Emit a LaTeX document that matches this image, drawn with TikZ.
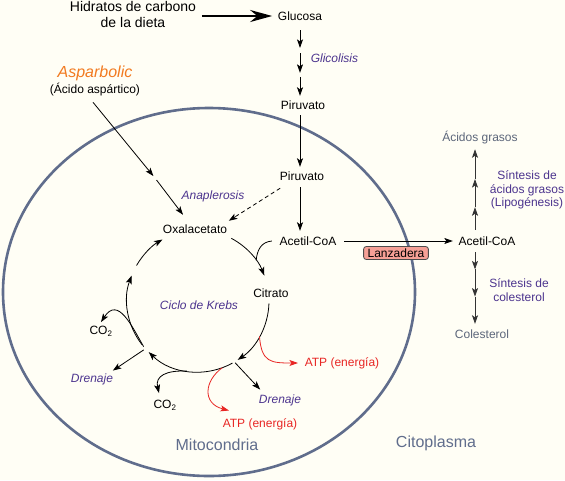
\documentclass[tikz,border=0pt]{standalone}
\usepackage{fontspec}
\setmainfont{Liberation Sans}
\usetikzlibrary{arrows.meta,calc}
\definecolor{lila}{RGB}{76,52,142}
\definecolor{membrana}{RGB}{96,109,140}
\definecolor{gris}{RGB}{92,102,122}
\definecolor{naranja}{RGB}{242,122,32}
\definecolor{rojo}{RGB}{232,38,36}
\definecolor{salmon}{RGB}{246,160,150}
\definecolor{fondo}{RGB}{255,254,245}
\begin{document}
\begin{tikzpicture}[x=1pt, y=-1pt, line width=0.8pt,
    every node/.style={inner sep=.5mm, font=\fontsize{12}{13.5}\selectfont},
    flecha/.style={-{Stealth[length=8.5pt,width=6pt,inset=2pt]}},
    ruta/.style={text=lila, font=\fontsize{12}{13.5}\selectfont\itshape},
    grande/.style={font=\fontsize{16}{18}\selectfont}]
          \useasboundingbox (0,0) rectangle (565,480);
          \fill[fondo] (0,0) rectangle (565,480);
          \draw[membrana, line width=2.6pt] (209,292) ellipse [x radius=206, y radius=184];
          \node (hidratos) at (133,14) [align=center, font=\fontsize{14}{16}\selectfont] {Hidratos de carbono\\de la dieta};
          \node (glucosa) at (300,16) {Glucosa};
          \node (piru1) at (303,105) {Piruvato};
          \node (piru2) at (302,176) {Piruvato};
          \node (acmito) at (308,241) {Acetil-CoA};
          \node (accito) at (487,241) {Acetil-CoA};
          \node (acidos) at (480,138) [text=gris] {Ácidos grasos};
          \node (colest) at (482,334) [text=gris] {Colesterol};
          \node (oxal) at (195,229) {Oxalacetato};
          \node (citrato) at (271,293) {Citrato};
          \node (krebs) at (199,305) [ruta] {Ciclo de Krebs};
          \node (glic) at (309,58) [ruta, anchor=west] {Glicolisis};
          \node (anap) at (213,196) [ruta] {Anaplerosis};
          \node (asp) at (95,73) [text=naranja, font=\fontsize{16}{18}\selectfont\itshape] {Asparbolic};
          \node (aspac) at (95,90) {(Ácido aspártico)};
          \node (lanz) at (396,253) [draw=black!70, fill=salmon, rounded corners=2.5pt, inner xsep=4pt, inner ysep=2pt] {Lanzadera};
          \node (lipo) at (527,190) [text=lila, align=center] {Síntesis de\\ácidos grasos\\(Lipogénesis)};
          \node (scol) at (519,290) [text=lila, align=center] {Síntesis de\\colesterol};
          \node (co2a) at (101,331) {CO\textsubscript{2}};
          \node (co2b) at (165,405) {CO\textsubscript{2}};
          \node (dren1) at (92,379) [ruta] {Drenaje};
          \node (dren2) at (280,400) [ruta] {Drenaje};
          \node (atp1) at (342,363) [text=rojo] {ATP (energía)};
          \node (atp2) at (260,424) [text=rojo] {ATP (energía)};
          \node (mito) at (217,445) [grande, text=membrana] {Mitocondria};
          \node (cito) at (436,443) [grande, text=membrana] {Citoplasma};
          \coordinate (K) at (198,301);   % centro del ciclo
          \coordinate (g0) at ([yshift=-8pt]glucosa.south);
          \coordinate (g1) at ([yshift=3pt]glucosa.south |- piru1.north);
          \coordinate (u0) at ([shift={(-12pt,5pt)}]accito.north);
          \coordinate (u1) at ([yshift=-3pt]u0 |- acidos.south);
          \coordinate (d0) at ([shift={(-12pt,-5pt)}]accito.south);
          \coordinate (d1) at ([yshift=4pt]d0 |- colest.north);
          \coordinate (aspmid) at (155,178);
          \draw[line width=2.2pt, -{Stealth[length=22pt,width=12pt]}] ([xshift=4pt]hidratos.east |- glucosa.west) -- ([xshift=-4pt]glucosa.west);
          \foreach \i/\j in {0/.27, .35/.65, .71/1}
            \draw[flecha] ($(g0)!\i!(g1)$) -- ($(g0)!\j!(g1)$);
          \draw[flecha, shorten <=4pt, shorten >=3pt] (piru1.south -| g0) -- (piru2.north -| g0);
          \draw[flecha, shorten <=5pt, shorten >=4pt] (piru2.south -| g0) -- (acmito.north -| g0);
          \draw[flecha, shorten <=6pt, shorten >=4pt] (acmito.east) -- (accito.west);
          \foreach \i/\j in {0/.28, .28/.63, .63/1}
            \draw[black!80, flecha] ($(u0)!\i!(u1)$) -- ($(u0)!\j!(u1)$);
          \foreach \i/\j in {0/.24, .24/.62, .62/1}
            \draw[black!80, flecha] ($(d0)!\i!(d1)$) -- ($(d0)!\j!(d1)$);
          \draw[flecha, shorten >=2.5pt] ([shift={(-2pt,-4pt)}]aspac.south) -- (aspmid);
          \draw[flecha, shorten <=2.5pt] (aspmid) -- ([shift={(-12pt,8pt)}]oxal.north);
          \draw[flecha, dash pattern=on 4pt off 3pt] ([shift={(2pt,-6pt)}]piru2.south west) -- ([yshift=2pt]oxal.north east);
          \foreach \a/\b in {-62/-21, 2/56, 61/134, 142/201, 210/240}
            \draw[flecha] ($(K)+(\a:71)$) arc[start angle=\a, end angle=\b, radius=71];
          \draw ([xshift=-6pt]acmito.west) .. controls +(-11,1) and +(1,-10) .. ($(K)+(-35:71)$);
          \draw[flecha] ($(K)+(140:71)$) .. controls +(-12,-21) and +(17,-26) .. ([yshift=2pt]co2a.north);
          \draw[flecha] ($(K)+(138:73)$) -- ([shift={(-2pt,1pt)}]dren1.north east);
          \draw[flecha] ($(K)+(99:71)$) .. controls +(-21,-1) and +(-4,-17) .. ([shift={(-6pt,5pt)}]co2b.north);
          \draw[flecha] ($(K)+(59:72)$) -- ([shift={(3pt,3pt)}]dren2.north west);
          \draw[rojo, flecha] ($(K)+(70:71)$) .. controls +(-18,13) and +(-27,-7) .. ([shift={(8pt,6pt)}]atp2.north west);
          \draw[rojo, flecha] ($(K)+(30:71)$) .. controls +(2,26) and +(-27,0) .. ([xshift=-5pt]atp1.west);
        \end{tikzpicture}
\end{document}
